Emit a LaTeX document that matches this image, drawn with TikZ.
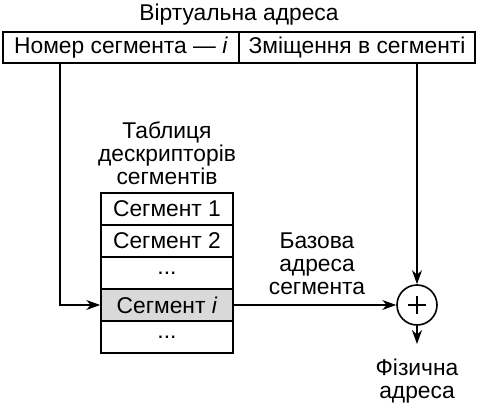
\documentclass[tikz,border=0pt]{standalone}
\usepackage{fontspec}
\setmainfont{Liberation Sans}
\usetikzlibrary{arrows.meta}

\begin{document}
\begin{tikzpicture}[x=0.5pt,y=-0.5pt,line width=0.8pt,
  font=\fontsize{11.4}{11.5}\selectfont,
  >={Stealth[length=7pt,width=5pt]},
  field/.style={draw,minimum width=118pt,minimum height=15.5pt,inner sep=0pt},
  row/.style={draw,minimum width=66pt,minimum height=16pt,inner sep=0pt},
  label/.style={align=center,inner sep=0pt}]
\path (0,0) rectangle (477,406);
\node[label] (title) at (239,15) {Віртуальна адреса};
\node[field] (num) at (121,47.5) {Номер сегмента~— \textit{i}};
\node[field] (shift) at (357,47.5) {Зміщення в сегменті};
\node[label] (tabcap) at (167,153) {Таблиця\\дескрипторів\\сегментів};
\node[row] (seg1) at (167,209) {Сегмент 1};
\node[row] (seg2) at (167,241) {Сегмент 2};
\node[row] (dots1) at (167,273) {...};
\node[row,fill=black!15] (segi) at (167,305) {Сегмент \textit{i}};
\node[row] (dots2) at (167,337) {...};
\node[label] (base) at (317,264) {Базова\\адреса\\сегмента};
\node[draw,circle,minimum size=20pt,inner sep=0pt] (sum) at (417,305) {};
\draw (sum.center) +(-9,0) -- +(9,0);
\draw (sum.center) +(0,-9) -- +(0,9);
\node[label] (phys) at (417,381) {Фізична\\адреса};
% connectors
\draw[->] ([xshift=29pt]num.south west) |- (segi.west);
\draw[->] (sum.north |- shift.south) -- (sum.north);
\draw[->] (segi.east) -- (sum.west);
\draw[->] (sum.south) -- ([yshift=7pt]phys.north);
\end{tikzpicture}
\end{document}
